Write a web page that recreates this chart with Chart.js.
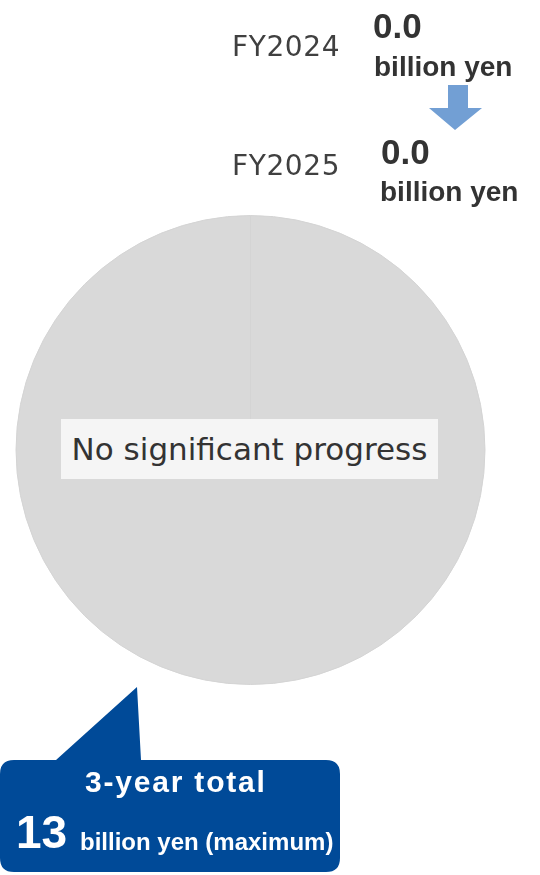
<!DOCTYPE html>
<html>
<head>
<meta charset="utf-8">
<script src="https://cdn.jsdelivr.net/npm/chart.js@4.4.1/dist/chart.umd.min.js"></script>
<style>
  html, body { margin: 0; padding: 0; background: #fff; }
  #wrap { position: relative; width: 540px; height: 875px; overflow: hidden; }
  #grafico { position: absolute; left: 0; top: 0; }
  .txt { position: absolute; white-space: nowrap; line-height: 1; }
  .fy { font-family: "DejaVu Sans", sans-serif; font-size: 28px; letter-spacing: 0.6px; color: #404040; }
  .valor { font-family: "Liberation Sans", Arial, sans-serif; font-weight: bold; font-size: 35px; color: #333; }
  .unidade { font-family: "Liberation Sans", Arial, sans-serif; font-weight: bold; font-size: 28px; color: #333; }
  #status { left: 61px; top: 419px; width: 377px; height: 60px; background: #f5f5f5;
    font-family: "DejaVu Sans", sans-serif; font-size: 31px; color: #333;
    display: flex; align-items: center; justify-content: center; line-height: 1; }
  .caixa { position: absolute; left: 0; top: 0; }
  .branco { color: #fff; font-family: "Liberation Sans", Arial, sans-serif; font-weight: bold; }
</style>
</head>
<body>
<div id="wrap">
  <canvas id="grafico" width="540" height="875"></canvas>

  <!-- seta entre os anos e balão do total -->
  <svg class="caixa" width="540" height="875">
    <polygon points="448,85 468,85 468,108 482,108 455,130 429,108 448,108" fill="#729fd4"/>
    <path d="M 56 760 L 137 687 L 141 760 L 326 760 Q 340 760 340 774 L 340 858 Q 340 872 326 872 L 14 872 Q 0 872 0 858 L 0 774 Q 0 760 14 760 Z" fill="#004a98"/>
  </svg>

  <div class="txt fy" id="ano1" style="left:232px; top:33px;"></div>
  <div class="txt valor" id="valor1" style="left:373px; top:8px;"></div>
  <div class="txt unidade" style="left:374px; top:53px;">billion yen</div>

  <div class="txt fy" id="ano2" style="left:232px; top:152px;"></div>
  <div class="txt valor" id="valor2" style="left:381px; top:134px;"></div>
  <div class="txt unidade" style="left:380px; top:178px;">billion yen</div>

  <div class="txt" id="status">No significant progress</div>

  <div class="txt branco" style="left:85px; top:767px; font-size:30px; letter-spacing:1.8px;">3-year total</div>
  <div class="txt branco" id="total" style="left:16px; top:809px; font-size:46px;"></div>
  <div class="txt branco" style="left:80px; top:830px; font-size:24px;">billion yen (maximum)</div>
</div>

<script>
// valores em bilhões de ienes
const anos = ["FY2024", "FY2025"];
const progressoAnual = [0.0, 0.0];
const totalTresAnos = 13;

const categorias = ["Progress", "Remaining"];
const valores = [progressoAnual[0] + progressoAnual[1], totalTresAnos];

document.getElementById("ano1").textContent = anos[0];
document.getElementById("ano2").textContent = anos[1];
document.getElementById("valor1").textContent = progressoAnual[0].toFixed(1);
document.getElementById("valor2").textContent = progressoAnual[1].toFixed(1);
document.getElementById("total").textContent = totalTresAnos;

const ctx = document.getElementById("grafico").getContext("2d");

new Chart(ctx, {
  type: "pie",
  data: {
    labels: categorias,
    datasets: [
      {
        data: valores,
        backgroundColor: ["#d9d9d9", "#d9d9d9"],
        // borda quase da mesma cor: só a linha do raio no topo fica visível
        borderColor: ["#d3d3d3", "#d4d4d4"],
        borderWidth: 1,
      },
    ],
  },
  options: {
    responsive: false,
    animation: false,
    layout: {
      padding: { left: 15, right: 54, top: 215, bottom: 190 },
    },
    plugins: {
      legend: { display: false },
      tooltip: { enabled: false },
    },
  },
});
</script>
</body>
</html>
